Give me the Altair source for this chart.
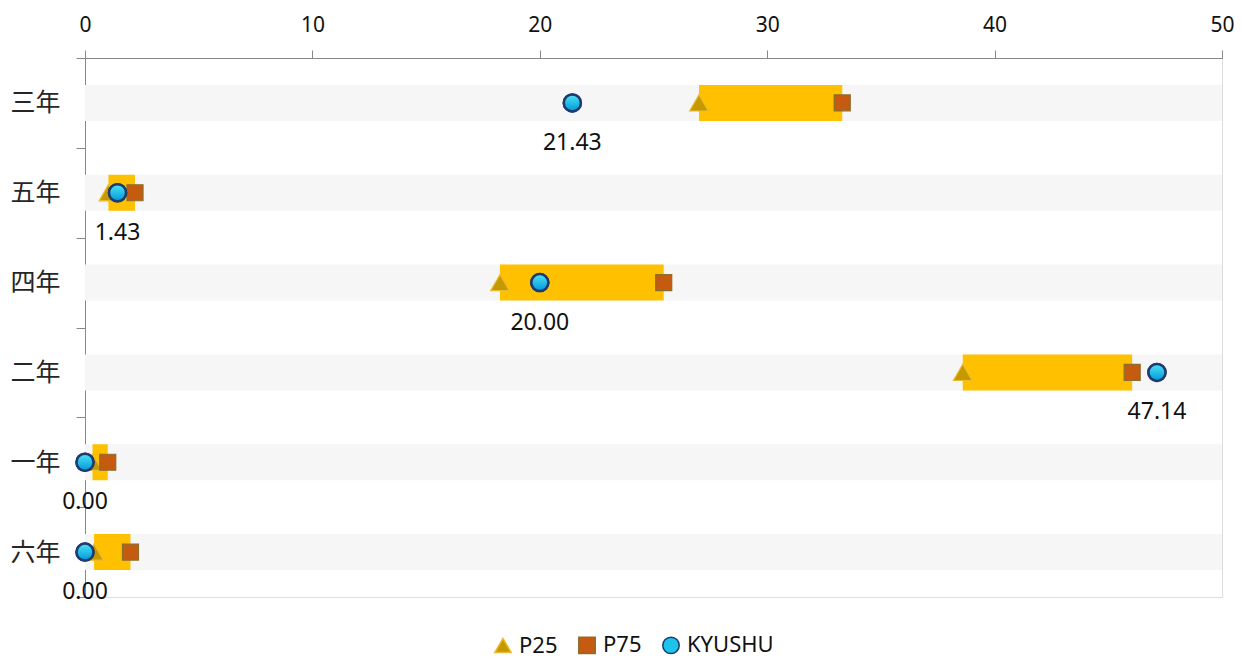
import altair as alt
import pandas as pd

categories = ["三年", "五年", "四年", "二年", "一年", "六年"]
p25 = [27.0, 1.03, 18.25, 38.6, 0.33, 0.4]
p75 = [33.3, 2.2, 25.45, 46.05, 1.0, 2.0]
kyushu = [21.43, 1.43, 20.00, 47.14, 0.00, 0.00]
series_names = ["P25", "P75", "KYUSHU"]
x_ticks = [0, 10, 20, 30, 40, 50]

range_df = pd.DataFrame({"cat": categories, "p25": p25, "p75": p75})
k_df = pd.DataFrame({"cat": categories, "value": kyushu,
                     "label": [f"{v:.2f}" for v in kyushu]})
rows = []
for name, vals in zip(series_names, [p25, p75, kyushu]):
    for c, v in zip(categories, vals):
        rows.append({"cat": c, "series": name, "value": v})
pts_df = pd.DataFrame(rows)

FONT = "Noto Sans"
ydef = alt.Y("cat:N", sort=categories, title=None,
             scale=alt.Scale(paddingInner=0, paddingOuter=0),
             axis=alt.Axis(labelFont="Noto Sans CJK JP", labelFontSize=25,
                           labelColor="#262626", tickBand="extent", tickSize=9,
                           tickColor="#888888", domainColor="#888888",
                           labelPadding=16, grid=False))
xscale = alt.Scale(domain=[0, 50], nice=False)

bands = alt.Chart(range_df).mark_bar(size=36, color="#F6F6F6").encode(
    y=ydef,
    x=alt.X(datum=0, scale=xscale, title=None,
            axis=alt.Axis(orient="top", values=x_ticks, labelFont=FONT,
                          labelFontSize=21, labelColor="#111111",
                          tickSize=8, tickColor="#888888",
                          domainColor="#888888", gridColor="#D9D9D9",
                          labelPadding=15, labelFlush=False)),
    x2=alt.X2(datum=50),
)

bars = alt.Chart(range_df).mark_bar(size=36, color="#FFC000").encode(
    y=alt.Y("cat:N", sort=categories, title=None),
    x=alt.X("p25:Q", scale=xscale, title=None),
    x2="p75:Q",
)

leg = alt.Legend(title=None, orient="none", direction="horizontal",
                 legendX=407, legendY=576, padding=0, labelFont=FONT,
                 labelFontSize=22, labelColor="#111111", symbolSize=270,
                 columnPadding=17, symbolStrokeWidth=1.5, labelOffset=5)

shape_enc = alt.Shape("series:N",
                      scale=alt.Scale(domain=series_names,
                                      range=["triangle-up", "square", "circle"]),
                      legend=leg)
fill_enc = alt.Fill("series:N",
                    scale=alt.Scale(domain=series_names,
                                    range=["#C49A00", "#C55A11", "#1CC4EC"]),
                    legend=leg)
stroke_enc = alt.Stroke("series:N",
                        scale=alt.Scale(domain=series_names,
                                        range=["#EDBB2E", "#8C6D2C", "#1F3A6E"]),
                        legend=leg)


def series_layer(name, size, sw):
    return alt.Chart(pts_df).transform_filter(
        alt.datum.series == name
    ).mark_point(filled=True, opacity=1, size=size, strokeWidth=sw).encode(
        y=alt.Y("cat:N", sort=categories, title=None),
        x=alt.X("value:Q", scale=xscale, title=None),
        shape=shape_enc, fill=fill_enc, stroke=stroke_enc,
    )


tri = series_layer("P25", 350, 1.2)
sq = series_layer("P75", 256, 1.2)
circ_base = series_layer("KYUSHU", 290, 2.5)

grad = alt.Gradient(gradient="linear",
                    stops=[alt.GradientStop(color="#4DE3F7", offset=0),
                           alt.GradientStop(color="#0098DA", offset=1)],
                    x1=0, x2=0, y1=0, y2=1)

circles = alt.Chart(k_df).mark_point(filled=True, opacity=1, shape="circle",
                                     size=290, fill=grad, stroke="#1F3A6E",
                                     strokeWidth=2.5).encode(
    y=alt.Y("cat:N", sort=categories, title=None),
    x=alt.X("value:Q", scale=xscale, title=None),
)

labels = alt.Chart(k_df).mark_text(font=FONT, fontSize=23, color="#111111",
                                   dy=40, baseline="middle",
                                   align="center").encode(
    y=alt.Y("cat:N", sort=categories, title=None),
    x=alt.X("value:Q", scale=xscale, title=None),
    text="label:N",
)

chart = alt.layer(bands, bars, tri, sq, circ_base, circles, labels).properties(
    width=1137, height=539,
    autosize=alt.AutoSizeParams(type="none"),
    padding={"left": 77, "top": 50, "right": 12, "bottom": 70},
).configure_view(stroke=None).configure(background="white")

chart.save("out.html", embed_options={"renderer": "svg", "actions": False})
